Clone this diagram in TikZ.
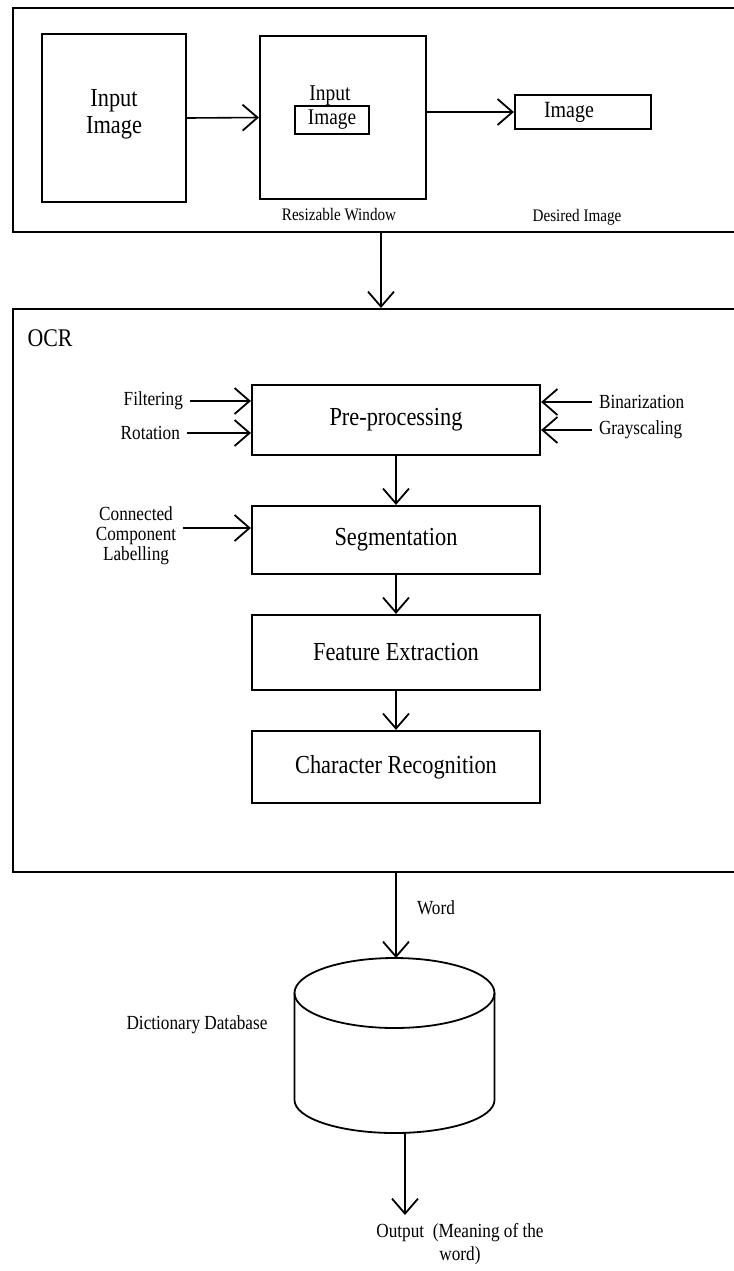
\documentclass[tikz,border=0pt]{standalone}
\usepackage{fontspec}
\setmainfont{Liberation Serif}[FakeStretch=0.86]
\usetikzlibrary{arrows.meta}

\tikzset{
  stage/.style={draw, line width=1.1pt, minimum width=144pt, inner sep=0pt, align=center, font=\fontsize{13}{13.5}\selectfont},
  frame/.style={draw, line width=1pt, minimum width=373.5pt, inner sep=0pt},
  arr/.style={line width=0.8pt, -{Straight Barb[length=7.5pt, width=13pt, line width=0.9pt]}},
  side/.style={align=center, font=\fontsize{10}{10}\selectfont},
  tiny/.style={font=\fontsize{8.8}{9}\selectfont},
}

\begin{document}
\begin{tikzpicture}[x=0.5pt, y=-0.5pt]
  \useasboundingbox (0,0) rectangle (734,1271);
  \clip (0,0) rectangle (734,1271);

  % window stage
  \node[frame, minimum height=112pt] (capture) at (386.5,120) {};
  \node[stage, minimum width=72pt, minimum height=84pt] (input) at (114,118) {Input\\Image\\[-6.5pt]};
  \node[stage, minimum width=83pt, minimum height=81.5pt] (resize) at (343,117.5) {};
  \node[font=\fontsize{11.3}{12}\selectfont] (inputlbl) at (330,95) {Input};
  \node[stage, minimum width=37pt, minimum height=14pt, font=\fontsize{11.2}{12}\selectfont] (innerimg) at (332,120) {Image};
  \node[stage, minimum width=68pt, minimum height=17pt, font=\fontsize{11.6}{12}\selectfont] (outimg) at (583,112) {Image\hspace*{14pt}};
  \node[tiny] (resizelbl) at (339,215) {Resizable Window};
  \node[tiny] (desiredlbl) at (577,217) {Desired Image};

  \draw[arr] (input.east) -- (resize.west);
  \draw[arr] (resize.east |- outimg.west) -- (outimg.west);

  % OCR stage
  \node[frame, minimum height=281.5pt] (ocr) at (386.5,590.5) {};
  \node[font=\fontsize{12.7}{13}\selectfont] (ocrlbl) at (50,338) {OCR};

  \coordinate (tap) at (381,0);
  \draw[arr] (capture.south -| tap) -- (ocr.north -| tap);

  \node[stage, minimum height=35pt] (pre) at (396,420) {Pre-processing};
  \node[stage, minimum height=34pt] (seg) at (396,540) {Segmentation};
  \node[stage, minimum height=37.5pt] (feat) at (396,652.5) {Feature Extraction};
  \node[stage, minimum height=36pt] (char) at (396,767) {Character Recognition};

  \node[side, anchor=east] (filt) at (190,401) {Filtering};
  \node[side, anchor=east] (rot) at (187,433) {Rotation};
  \node[side, anchor=west] (bin) at (592,402) {Binarization};
  \node[side, anchor=west] (gray) at (592,430) {Grayscaling};
  \node[side] (conn) at (136,536) {Connected\\Component\\Labelling};

  \draw[arr] (filt.east) -- (filt.east -| pre.west);
  \draw[arr] (rot.east) -- (rot.east -| pre.west);
  \draw[arr] (bin.west) -- (bin.west -| pre.east);
  \draw[arr] (gray.west) -- (gray.west -| pre.east);
  \draw[arr] ([yshift=4pt]conn.east) -- ([yshift=4pt]conn.east -| seg.west);

  \draw[arr] (pre) -- (seg);
  \draw[arr] (seg) -- (feat);
  \draw[arr] (feat) -- (char);

  % dictionary lookup
  \coordinate (dbtop) at (396,958);
  \coordinate (dbbot) at (405,1133);
  \coordinate (outtip) at (405,1215);
  \draw[line width=0.9pt] (294.5,993) -- (294.5,1100)
    arc[start angle=180, end angle=360, x radius=50pt, y radius=16.5pt] -- (494.5,993);
  \draw[line width=0.9pt] (394.5,993) ellipse[x radius=50pt, y radius=17.5pt];

  \node[side] (word) at (436,908) {Word};
  \node[side] (dblbl) at (197,1025) {Dictionary Database};
  \node[side, font=\fontsize{10}{11.5}\selectfont] (out) at (460,1244) {Output\ \ (Meaning of the\\word)};

  \draw[arr] (ocr.south -| char.south) -- (dbtop);
  \draw[arr] (dbbot) -- (outtip);
\end{tikzpicture}
\end{document}
